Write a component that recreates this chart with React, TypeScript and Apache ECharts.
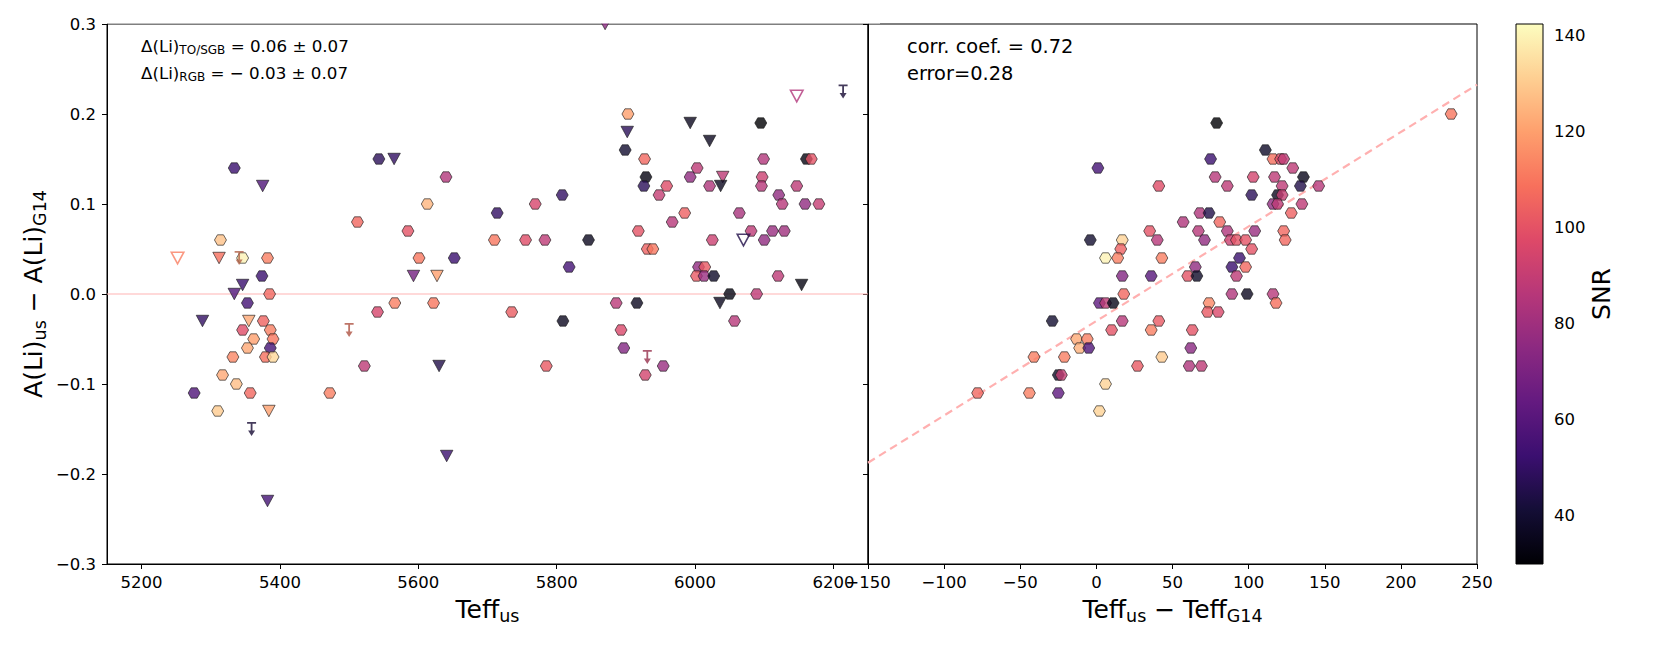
import React, { useEffect, useRef } from "react";
import * as echarts from "echarts";

// ---------------- data ----------------
// Left panel: [Teff_us, A(Li)us - A(Li)G14, SNR]
const LEFT_HEX: number[][] = [
  [5334, 0.14, 52], [5543, 0.15, 48], [5640, 0.13, 85], [5613, 0.10, 125], [5512, 0.08, 106],
  [5585, 0.07, 100], [5601, 0.04, 110], [5652, 0.04, 52], [5566, -0.01, 112], [5622, -0.01, 110],
  [5541, -0.02, 95], [5522, -0.08, 88], [5472, -0.11, 112], [5314, 0.06, 128], [5346, 0.04, 140],
  [5382, 0.04, 112], [5374, 0.02, 52], [5385, 0.0, 106], [5353, -0.01, 55], [5376, -0.03, 105],
  [5346, -0.04, 98], [5386, -0.04, 112], [5362, -0.05, 120], [5390, -0.05, 110], [5353, -0.06, 122],
  [5386, -0.06, 55], [5332, -0.07, 114], [5379, -0.07, 108], [5390, -0.07, 133], [5317, -0.09, 122],
  [5337, -0.10, 127], [5357, -0.11, 106], [5276, -0.11, 58], [5310, -0.13, 130],
  [5903, 0.20, 120], [5899, 0.16, 40], [5927, 0.15, 106], [5929, 0.13, 33], [5926, 0.12, 48],
  [5959, 0.12, 98], [5948, 0.11, 90], [5808, 0.11, 50], [5769, 0.10, 95], [5714, 0.09, 50],
  [5710, 0.06, 110], [5755, 0.06, 98], [5783, 0.06, 88], [5846, 0.06, 36], [5918, 0.07, 100],
  [5931, 0.05, 104], [5939, 0.05, 110], [5818, 0.03, 55], [5886, -0.01, 87], [5916, -0.01, 36],
  [5735, -0.02, 103], [5809, -0.03, 36], [5893, -0.04, 96], [5897, -0.06, 72], [5928, -0.09, 94],
  [5954, -0.08, 78], [5785, -0.08, 102],
  [6095, 0.19, 30], [6099, 0.15, 85], [6161, 0.15, 33], [6168, 0.15, 100], [6003, 0.14, 88],
  [5993, 0.13, 76], [6097, 0.13, 92], [6021, 0.12, 84], [6096, 0.12, 86], [6121, 0.11, 76],
  [6147, 0.12, 88], [6126, 0.10, 86], [6159, 0.10, 76], [6179, 0.10, 90], [5985, 0.09, 104],
  [5967, 0.08, 86], [6064, 0.09, 82], [6025, 0.06, 92], [6081, 0.07, 88], [6100, 0.06, 76],
  [6112, 0.07, 78], [6129, 0.07, 80], [6005, 0.03, 76], [6014, 0.03, 102], [6002, 0.02, 102],
  [6013, 0.02, 78], [6027, 0.02, 38], [6120, 0.02, 88], [6050, 0.0, 33], [6089, 0.0, 88],
  [6057, -0.03, 86],
];

const LEFT_TRI: number[][] = [
  [5375, 0.12, 58], [5565, 0.15, 50], [5593, 0.02, 68], [5627, 0.02, 120], [5630, -0.08, 45],
  [5641, -0.18, 52], [5312, 0.04, 108], [5346, 0.01, 52], [5334, 0.0, 58], [5288, -0.03, 50],
  [5355, -0.03, 122], [5384, -0.13, 120], [5382, -0.23, 55], [5870, 0.30, 75], [5902, 0.18, 48],
  [5993, 0.19, 36], [6021, 0.17, 36], [6040, 0.13, 88], [6037, 0.12, 36], [6154, 0.01, 33],
  [6036, -0.01, 36],
];

const LEFT_OPEN_TRI: number[][] = [
  [5252, 0.04, 112], [6147, 0.22, 85], [6070, 0.06, 45],
];

const LEFT_LIMITS: number[][] = [
  [5341, 0.04, 115], [5359, -0.15, 45], [5500, -0.04, 110], [5931, -0.07, 95], [6214, 0.225, 45],
];

// Right panel: [Teff_us - Teff_G14, A(Li)us - A(Li)G14, SNR]
const RIGHT_HEX: number[][] = [
  [1, 0.14, 55], [-4, 0.06, 40], [6, 0.04, 140], [2, -0.01, 62], [6, -0.01, 88], [11, -0.01, 35],
  [-29, -0.03, 40], [10, -0.04, 100], [-13, -0.05, 122], [-6, -0.05, 112], [-11, -0.06, 124],
  [-5, -0.06, 58], [-41, -0.07, 112], [-21, -0.07, 112], [-25, -0.09, 38], [-23, -0.09, 90],
  [6, -0.10, 132], [-78, -0.11, 106], [-44, -0.11, 112], [-25, -0.11, 62], [2, -0.13, 132],
  [17, 0.06, 132], [16, 0.05, 104], [14, 0.04, 112], [17, 0.02, 72], [18, 0.0, 106], [17, -0.03, 86],
  [79, 0.19, 30], [111, 0.16, 38], [75, 0.15, 52], [116, 0.15, 108], [121, 0.15, 98], [123, 0.15, 88],
  [129, 0.14, 88], [78, 0.13, 86], [86, 0.12, 88], [103, 0.13, 94], [117, 0.13, 88], [136, 0.13, 35],
  [122, 0.12, 88], [134, 0.12, 45], [146, 0.12, 86], [41, 0.12, 98], [102, 0.11, 48], [119, 0.11, 36],
  [122, 0.11, 90], [116, 0.10, 76], [119, 0.10, 88], [135, 0.10, 88], [128, 0.09, 104], [68, 0.09, 84],
  [74, 0.09, 45], [57, 0.08, 84], [81, 0.08, 106], [35, 0.07, 100], [67, 0.07, 86], [86, 0.07, 84],
  [104, 0.07, 78], [123, 0.07, 106], [40, 0.06, 86], [71, 0.06, 76], [88, 0.06, 92], [92, 0.06, 100],
  [98, 0.06, 100], [124, 0.06, 106], [102, 0.05, 100], [43, 0.04, 112], [94, 0.04, 52], [65, 0.03, 76],
  [89, 0.03, 52], [98, 0.03, 106], [60, 0.02, 100], [66, 0.02, 38], [92, 0.02, 88], [36, 0.02, 60],
  [89, 0.0, 84], [99, 0.0, 36], [116, 0.0, 86], [118, -0.01, 108], [74, -0.01, 114], [73, -0.02, 102],
  [80, -0.02, 96], [41, -0.03, 102], [36, -0.04, 112], [63, -0.04, 100], [62, -0.06, 74],
  [43, -0.07, 130], [27, -0.08, 102], [61, -0.08, 84], [69, -0.08, 88], [233, 0.20, 110],
];

// Linear fit shown in the right panel
const FIT_SLOPE = 0.00105;
const FIT_INTERCEPT = -0.03;

// Axes
const TEFF_RANGE = [5150, 6250];
const TEFF_TICKS = [5200, 5400, 5600, 5800, 6000, 6200];
const DTEFF_RANGE = [-150, 250];
const DTEFF_STEP = 50;
const Y_RANGE = [-0.3, 0.3];
const Y_TICKS = [-0.3, -0.2, -0.1, 0.0, 0.1, 0.2, 0.3];
const SNR_RANGE = [30, 142.4];
const SNR_TICKS = [40, 60, 80, 100, 120, 140];

// Annotation texts
const LEFT_NOTES = [
  "{m|Δ(Li)}{s|TO/SGB}{m| = 0.06 ± 0.07}",
  "{m|Δ(Li)}{s|RGB}{m| = − 0.03 ± 0.07}",
];
const RIGHT_NOTES = ["corr. coef. = 0.72", "error=0.28"];

// ---------------- styling helpers ----------------
const FONT = "'DejaVu Sans', 'Liberation Sans', sans-serif";
const MAGMA = [
  "#000004", "#140e36", "#3b0f70", "#641a80", "#8c2981", "#b73779",
  "#de4968", "#f7705c", "#fe9f6d", "#fecf92", "#fcfdbf",
];

function hexToRgb(h: string) {
  return [parseInt(h.slice(1, 3), 16), parseInt(h.slice(3, 5), 16), parseInt(h.slice(5, 7), 16)];
}
function magmaRgb(snr: number) {
  let t = (snr - SNR_RANGE[0]) / (SNR_RANGE[1] - SNR_RANGE[0]);
  t = Math.max(0, Math.min(1, t));
  const p = t * (MAGMA.length - 1);
  const i = Math.min(MAGMA.length - 2, Math.floor(p));
  const f = p - i;
  const a = hexToRgb(MAGMA[i]);
  const b = hexToRgb(MAGMA[i + 1]);
  return a.map((v, k) => Math.round(v + (b[k] - v) * f));
}
function magma(snr: number) {
  const c = magmaRgb(snr);
  return `rgb(${c[0]},${c[1]},${c[2]})`;
}
function magmaDark(snr: number) {
  const c = magmaRgb(snr).map((v) => Math.round(v * 0.7));
  return `rgb(${c[0]},${c[1]},${c[2]})`;
}
const fmtMinus = (s: string) => s.replace("-", "−");

const HEX_PATH = "path://M0,5 L2.887,0 L8.660,0 L11.547,5 L8.660,10 L2.887,10 Z";
const TRI_PATH = "path://M0,0 L12,0 L6,11 Z";
const ARROW_PATH =
  "path://M0,0 L9,0 L9,1.8 L5.4,1.8 L5.4,8.5 L8,8.5 L4.5,14 L1,8.5 L3.6,8.5 L3.6,1.8 L0,1.8 Z";

const G0 = { left: 107, top: 24, width: 761, height: 540 };
const G1 = { left: 868, top: 24, width: 609, height: 540 };
const G2 = { left: 1516, top: 24, width: 27, height: 540 };

const tickFont = { fontFamily: FONT, fontSize: 16.5, color: "#000" };
const axisLineStyle = { color: "#000", width: 1 };
const nameRich = {
  m: { fontFamily: FONT, fontSize: 25, color: "#000", lineHeight: 32 },
  s: { fontFamily: FONT, fontSize: 17.5, color: "#000", verticalAlign: "bottom", lineHeight: 14 },
};

export default function App() {
  const ref = useRef<HTMLDivElement>(null);

  useEffect(() => {
    document.body.style.margin = "0";
    if (!ref.current) return;
    const chart = echarts.init(ref.current, undefined, { renderer: "svg" });

    const fitData = DTEFF_RANGE.map((x) => [x, FIT_INTERCEPT + FIT_SLOPE * x]);
    const zeroData = TEFF_RANGE.map((x) => [x, 0]);

    const gradStops = MAGMA.map((c, i) => ({ offset: i / (MAGMA.length - 1), color: c }));

    const noteRichSmall = {
      m: { fontFamily: FONT, fontSize: 16.7, color: "#000", lineHeight: 20 },
      s: { fontFamily: FONT, fontSize: 12, color: "#000", verticalAlign: "bottom", lineHeight: 12 },
    };

    const edge = { borderColor: "#1a1a1a", borderWidth: 0.8 };

    const option: any = {
      animation: false,
      backgroundColor: "#fff",
      grid: [
        { ...G0, show: true, borderColor: "#000", borderWidth: 1, backgroundColor: "transparent" },
        { ...G1, show: true, borderColor: "#000", borderWidth: 1, backgroundColor: "transparent" },
        { ...G2, show: false },
      ],
      xAxis: [
        {
          gridIndex: 0,
          type: "value",
          min: TEFF_RANGE[0],
          max: TEFF_RANGE[1],
          axisLine: { show: true, onZero: false, lineStyle: axisLineStyle },
          axisTick: { show: true, customValues: TEFF_TICKS, length: 5, lineStyle: axisLineStyle },
          axisLabel: { customValues: TEFF_TICKS, ...tickFont, margin: 10, formatter: (v: number) => String(v) },
          splitLine: { show: false },
          name: "{m|Teff}{s|us}",
          nameLocation: "middle",
          nameGap: 29,
          nameTextStyle: { rich: nameRich },
        },
        {
          gridIndex: 1,
          type: "value",
          min: DTEFF_RANGE[0],
          max: DTEFF_RANGE[1],
          interval: DTEFF_STEP,
          axisLine: { show: true, onZero: false, lineStyle: axisLineStyle },
          axisTick: { show: true, length: 5, lineStyle: axisLineStyle },
          axisLabel: {
            ...tickFont,
            margin: 10,
            showMinLabel: true,
            showMaxLabel: true,
            hideOverlap: false,
            formatter: (v: number) => fmtMinus(String(v)),
          },
          splitLine: { show: false },
          name: "{m|Teff}{s|us}{m| − Teff}{s|G14}",
          nameLocation: "middle",
          nameGap: 29,
          nameTextStyle: { rich: nameRich },
        },
        { gridIndex: 2, type: "value", min: 0, max: 1, show: false },
      ],
      yAxis: [
        {
          gridIndex: 0,
          type: "value",
          min: Y_RANGE[0],
          max: Y_RANGE[1],
          axisLine: { show: true, onZero: false, lineStyle: axisLineStyle },
          axisTick: { show: true, customValues: Y_TICKS, length: 5, lineStyle: axisLineStyle },
          axisLabel: {
            customValues: Y_TICKS,
            ...tickFont,
            margin: 11,
            formatter: (v: number) => fmtMinus(v.toFixed(1)),
          },
          splitLine: { show: false },
          name: "{m|A(Li)}{s|us}{m| − A(Li)}{s|G14}",
          nameLocation: "middle",
          nameRotate: 90,
          nameGap: 58,
          nameTextStyle: { rich: nameRich },
        },
        {
          gridIndex: 1,
          type: "value",
          min: Y_RANGE[0],
          max: Y_RANGE[1],
          axisLine: { show: true, onZero: false, lineStyle: axisLineStyle },
          axisTick: { show: true, customValues: Y_TICKS, length: 5, lineStyle: axisLineStyle },
          axisLabel: { show: false, customValues: Y_TICKS },
          splitLine: { show: false },
        },
        {
          gridIndex: 2,
          type: "value",
          position: "right",
          min: SNR_RANGE[0],
          max: SNR_RANGE[1],
          axisLine: { show: false },
          axisTick: { show: true, customValues: SNR_TICKS, length: 5, lineStyle: axisLineStyle },
          axisLabel: { customValues: SNR_TICKS, ...tickFont, margin: 11, formatter: (v: number) => String(v) },
          splitLine: { show: false },
          name: "SNR",
          nameLocation: "middle",
          nameRotate: 90,
          nameGap: 46,
          nameTextStyle: { fontFamily: FONT, fontSize: 25, color: "#000" },
        },
      ],
      series: [
        {
          type: "line",
          xAxisIndex: 0,
          yAxisIndex: 0,
          data: zeroData,
          symbol: "none",
          silent: true,
          z: 1,
          lineStyle: { color: "#ffb3b3", width: 1.2 },
        },
        {
          type: "line",
          xAxisIndex: 1,
          yAxisIndex: 1,
          data: fitData,
          symbol: "none",
          silent: true,
          z: 1,
          lineStyle: { color: "#ffb0b0", width: 2.2, type: [8, 5] },
        },
        {
          type: "scatter",
          xAxisIndex: 0,
          yAxisIndex: 0,
          symbol: HEX_PATH,
          symbolSize: [12, 10.4],
          silent: true,
          itemStyle: edge,
          data: LEFT_HEX.map((d) => ({ value: [d[0], d[1]], itemStyle: { color: magma(d[2]) } })),
        },
        {
          type: "scatter",
          xAxisIndex: 0,
          yAxisIndex: 0,
          symbol: TRI_PATH,
          symbolSize: [12.5, 11.5],
          silent: true,
          itemStyle: edge,
          data: LEFT_TRI.map((d) => ({ value: [d[0], d[1]], itemStyle: { color: magma(d[2]) } })),
        },
        {
          type: "scatter",
          xAxisIndex: 0,
          yAxisIndex: 0,
          symbol: TRI_PATH,
          symbolSize: [12.5, 11.5],
          silent: true,
          data: LEFT_OPEN_TRI.map((d) => ({
            value: [d[0], d[1]],
            itemStyle: { color: "rgba(255,255,255,0)", borderColor: magma(d[2]), borderWidth: 1.6 },
          })),
        },
        {
          type: "scatter",
          xAxisIndex: 0,
          yAxisIndex: 0,
          symbol: ARROW_PATH,
          symbolSize: [9, 14],
          silent: true,
          data: LEFT_LIMITS.map((d) => ({ value: [d[0], d[1]], itemStyle: { color: magmaDark(d[2]) } })),
        },
        {
          type: "scatter",
          xAxisIndex: 1,
          yAxisIndex: 1,
          symbol: HEX_PATH,
          symbolSize: [12, 10.4],
          silent: true,
          itemStyle: edge,
          data: RIGHT_HEX.map((d) => ({ value: [d[0], d[1]], itemStyle: { color: magma(d[2]) } })),
        },
      ],
      graphic: [
        {
          type: "rect",
          z: 100,
          silent: true,
          shape: { x: 100, y: 0, width: 780, height: 23.4 },
          style: { fill: "#fff" },
        },
        {
          type: "rect",
          z: 5,
          silent: true,
          shape: { x: G2.left, y: G2.top, width: G2.width, height: G2.height },
          style: {
            fill: new echarts.graphic.LinearGradient(0, 1, 0, 0, gradStops),
            stroke: "#000",
            lineWidth: 1,
          },
        },
        ...LEFT_NOTES.map((t, i) => ({
          type: "text",
          z: 50,
          silent: true,
          x: 141,
          y: 46 + i * 27,
          style: { text: t, rich: noteRichSmall, verticalAlign: "middle", align: "left" },
        })),
        ...RIGHT_NOTES.map((t, i) => ({
          type: "text",
          z: 50,
          silent: true,
          x: 907,
          y: 46 + i * 27,
          style: {
            text: t,
            fontFamily: FONT,
            fontSize: 19.4,
            fill: "#000",
            verticalAlign: "middle",
            align: "left",
          },
        })),
      ],
    };

    chart.setOption(option);
    return () => chart.dispose();
  }, []);

  return <div ref={ref} style={{ width: 1660, height: 647 }} />;
}
